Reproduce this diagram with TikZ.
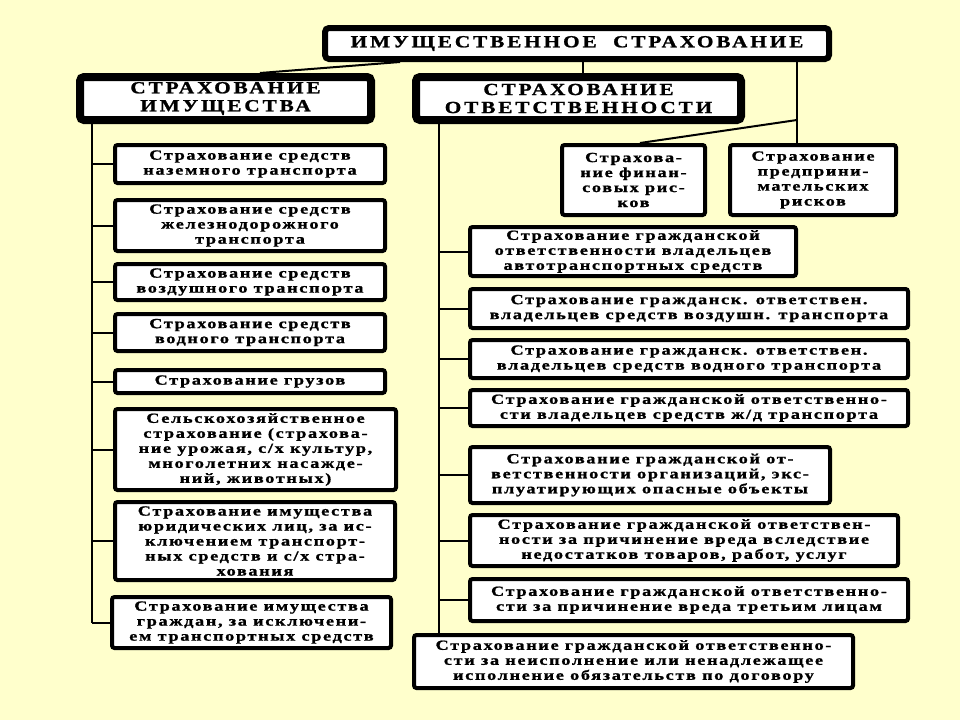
\documentclass[tikz,border=0pt]{standalone}
\usepackage{fontspec}
\newfontfamily\smallf[LetterSpace=12,FakeStretch=1.3,FakeBold=1.2]{Liberation Serif}
\newfontfamily\headf[LetterSpace=17,FakeStretch=1.25,FakeBold=1.2]{Liberation Serif}
\definecolor{bg}{RGB}{255,255,204}
\tikzset{
  bx/.style={draw=black, fill=white, line width=4pt, rounded corners=2.5pt, inner sep=0pt, align=center,
    font=\smallf\bfseries\fontsize{14}{15}\selectfont},
  hd/.style={draw=black, fill=white, line width=8pt, rounded corners=4pt, inner sep=0pt, align=center,
    font=\headf\bfseries\fontsize{17}{18}\selectfont},
  tp/.style={hd, line width=6pt},
  ln/.style={draw=black, line width=2pt}
}
\begin{document}
\begin{tikzpicture}[x=1pt,y=-1pt]
\path[fill=bg] (0,0) rectangle (960,720);
\useasboundingbox (0,0) rectangle (960,720);
% headings
\node[tp, minimum width=504pt, minimum height=31pt] (top) at (577,43.5) {ИМУЩЕСТВЕННОЕ\ \ СТРАХОВАНИЕ};
\node[hd, minimum width=291pt, minimum height=43pt] (S1) at (225.5,98.5) {СТРАХОВАНИЕ\\ИМУЩЕСТВА};
\node[hd, minimum width=325pt, minimum height=43pt] (S2) at (578.5,98.5) {СТРАХОВАНИЕ\\ОТВЕТСТВЕННОСТИ};
% left column
\node[bx, minimum width=270pt, minimum height=38pt] (L1) at (250,164) {Страхование средств\\наземного транспорта};
\node[bx, minimum width=270pt, minimum height=51pt] (L2) at (250,225.5) {Страхование средств\\железнодорожного\\транспорта};
\node[bx, minimum width=270pt, minimum height=36pt] (L3) at (250,282) {Страхование средств\\воздушного транспорта};
\node[bx, minimum width=270pt, minimum height=37pt] (L4) at (250,332.5) {Страхование средств\\водного транспорта};
\node[bx, minimum width=270pt, minimum height=23pt] (L5) at (250,381.5) {Страхование грузов};
\node[bx, minimum width=281pt, minimum height=81pt] (L6) at (255.5,449.5) {Сельскохозяйственное\\страхование (страхова-\\ние урожая, с/х культур,\\многолетних насажде-\\ний, животных)};
\node[bx, minimum width=280pt, minimum height=78pt] (L7) at (255,541) {Страхование имущества\\юридических лиц, за ис-\\ключением транспорт-\\ных средств и с/х стра-\\хования};
\node[bx, minimum width=279pt, minimum height=51pt] (L8) at (251.5,622.5) {Страхование имущества\\граждан, за исключени-\\ем транспортных средств};
% right column
\node[bx, minimum width=143pt, minimum height=70pt] (F) at (633.5,180) {Страхова-\\ние финан-\\совых рис-\\ков};
\node[bx, minimum width=166pt, minimum height=70pt] (P) at (813,180) {Страхование\\предприни-\\мательских\\рисков};
\node[bx, minimum width=326pt, minimum height=49pt] (R1) at (633,251.5) {Страхование гражданской\\ответственности владельцев\\автотранспортных средств};
\node[bx, minimum width=438pt, minimum height=39pt] (R2) at (689,308.5) {Страхование гражданск. ответствен.\\владельцев средств воздушн. транспорта};
\node[bx, minimum width=438pt, minimum height=38pt] (R3) at (689,359) {Страхование гражданск. ответствен.\\владельцев средств водного транспорта};
\node[bx, minimum width=438pt, minimum height=36pt] (R4) at (689,408) {Страхование гражданской ответственно-\\сти владельцев средств ж/д транспорта};
\node[bx, minimum width=360pt, minimum height=56pt] (R5) at (650,475) {Страхование гражданской от-\\ветственности организаций, экс-\\плуатирующих опасные объекты};
\node[bx, minimum width=428pt, minimum height=51pt] (R6) at (684,540.5) {Страхование гражданской ответствен-\\ности за причинение вреда вследствие\\недостатков товаров, работ, услуг};
\node[bx, minimum width=438pt, minimum height=42pt] (R7) at (689,600) {Страхование гражданской ответственно-\\сти за причинение вреда третьим лицам};
\node[bx, minimum width=439pt, minimum height=53pt] (R8) at (633.5,661.5) {Страхование гражданской ответственно-\\сти за неисполнение или ненадлежащее\\исполнение обязательств по договору};
% connectors from top
\draw[ln] (top.south -| 400,0) -- (S1.north -| 260,0);
\draw[ln] (top.south -| 583,0) -- (S2.north -| 583,0);
\draw[ln] (top.south -| 797,0) -- (P.north -| 797,0);
\coordinate (fk) at (797,120);
\draw[ln] (fk) -- (F.north -| 640,0);
% left trunk
\draw[ln] (S1.south -| 92,0) -- (L8.west -| 92,0);
\foreach \n in {L1,L2,L3,L4,L5,L6,L7,L8} {\draw[ln] (\n.west -| 92,0) -- (\n.west);}
% right trunk
\draw[ln] (S2.south -| 439,0) -- (R8.north -| 439,0);
\foreach \n in {R1,R2,R3,R4,R5,R6,R7} {\draw[ln] (\n.west -| 439,0) -- (\n.west);}
\end{tikzpicture}
\end{document}
